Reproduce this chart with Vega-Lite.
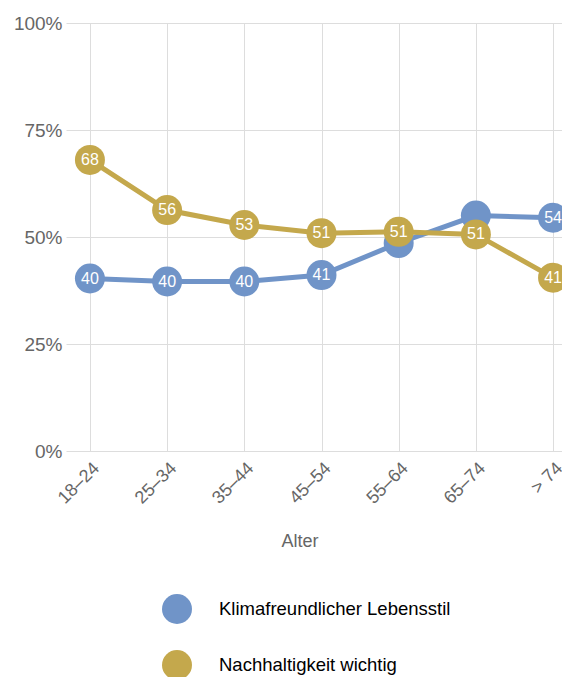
{
  "$schema": "https://vega.github.io/schema/vega-lite/v6.json",
  "autosize": "none",
  "padding": {"left": 66, "top": 23, "right": 0, "bottom": 226},
  "width": 511,
  "height": 428,
  "data": {
    "values": [
      {"Alter": "18–24", "Serie": "Klimafreundlicher Lebensstil", "Wert": 40.3, "label": "40"},
      {"Alter": "25–34", "Serie": "Klimafreundlicher Lebensstil", "Wert": 39.6, "label": "40"},
      {"Alter": "35–44", "Serie": "Klimafreundlicher Lebensstil", "Wert": 39.6, "label": "40"},
      {"Alter": "45–54", "Serie": "Klimafreundlicher Lebensstil", "Wert": 41.1, "label": "41"},
      {"Alter": "55–64", "Serie": "Klimafreundlicher Lebensstil", "Wert": 48.6, "label": ""},
      {"Alter": "65–74", "Serie": "Klimafreundlicher Lebensstil", "Wert": 55.0, "label": ""},
      {"Alter": "> 74", "Serie": "Klimafreundlicher Lebensstil", "Wert": 54.5, "label": "54"},
      {"Alter": "18–24", "Serie": "Nachhaltigkeit wichtig", "Wert": 68.0, "label": "68"},
      {"Alter": "25–34", "Serie": "Nachhaltigkeit wichtig", "Wert": 56.3, "label": "56"},
      {"Alter": "35–44", "Serie": "Nachhaltigkeit wichtig", "Wert": 52.8, "label": "53"},
      {"Alter": "45–54", "Serie": "Nachhaltigkeit wichtig", "Wert": 50.9, "label": "51"},
      {"Alter": "55–64", "Serie": "Nachhaltigkeit wichtig", "Wert": 51.2, "label": "51"},
      {"Alter": "65–74", "Serie": "Nachhaltigkeit wichtig", "Wert": 50.6, "label": "51"},
      {"Alter": "> 74", "Serie": "Nachhaltigkeit wichtig", "Wert": 40.5, "label": "41"}
    ]
  },
  "encoding": {
    "x": {
      "field": "Alter",
      "type": "ordinal",
      "sort": null,
      "scale": {"type": "point", "padding": 0.31},
      "axis": {
        "title": "Alter",
        "labelAngle": -45,
        "labelAlign": "right",
        "labelBaseline": "top",
        "labelFontSize": 18,
        "labelColor": "#666666",
        "labelPadding": 8,
        "ticks": false,
        "domain": false,
        "grid": true,
        "gridColor": "#dddddd",
        "titleFontSize": 18,
        "titleFontWeight": "normal",
        "titleColor": "#666666",
        "titleX": 233.5,
        "titleY": 90,
        "titleAlign": "center",
        "titleBaseline": "middle"
      }
    },
    "y": {
      "field": "Wert",
      "type": "quantitative",
      "scale": {"domain": [0, 100], "nice": false},
      "axis": {
        "title": null,
        "values": [0, 25, 50, 75, 100],
        "labelExpr": "datum.value + '%'",
        "labelFontSize": 19,
        "labelColor": "#666666",
        "labelPadding": 4,
        "ticks": false,
        "domain": false,
        "gridColor": "#dddddd"
      }
    }
  },
  "layer": [
    {
      "mark": {"type": "line", "strokeWidth": 5},
      "encoding": {
        "color": {
          "field": "Serie",
          "type": "nominal",
          "scale": {"domain": ["Klimafreundlicher Lebensstil", "Nachhaltigkeit wichtig"], "range": ["#7094c8", "#c4a84c"]},
          "legend": {
            "title": null,
            "orient": "none",
            "legendX": 96,
            "legendY": 571,
            "direction": "vertical",
            "symbolType": "circle",
            "symbolSize": 900,
            "symbolStrokeWidth": 0,
            "labelFontSize": 18.5,
            "labelColor": "#000000",
            "labelOffset": 27,
            "rowPadding": 26,
            "labelLimit": 400
          }
        }
      }
    },
    {
      "mark": {"type": "point", "filled": true, "opacity": 1, "size": 900},
      "encoding": {
        "color": {"field": "Serie", "type": "nominal"}
      }
    },
    {
      "mark": {"type": "text", "color": "white", "fontSize": 16, "baseline": "middle", "align": "center"},
      "encoding": {
        "text": {"field": "label"}
      }
    }
  ],
  "config": {
    "view": {"stroke": null},
    "font": "Liberation Sans"
  }
}
